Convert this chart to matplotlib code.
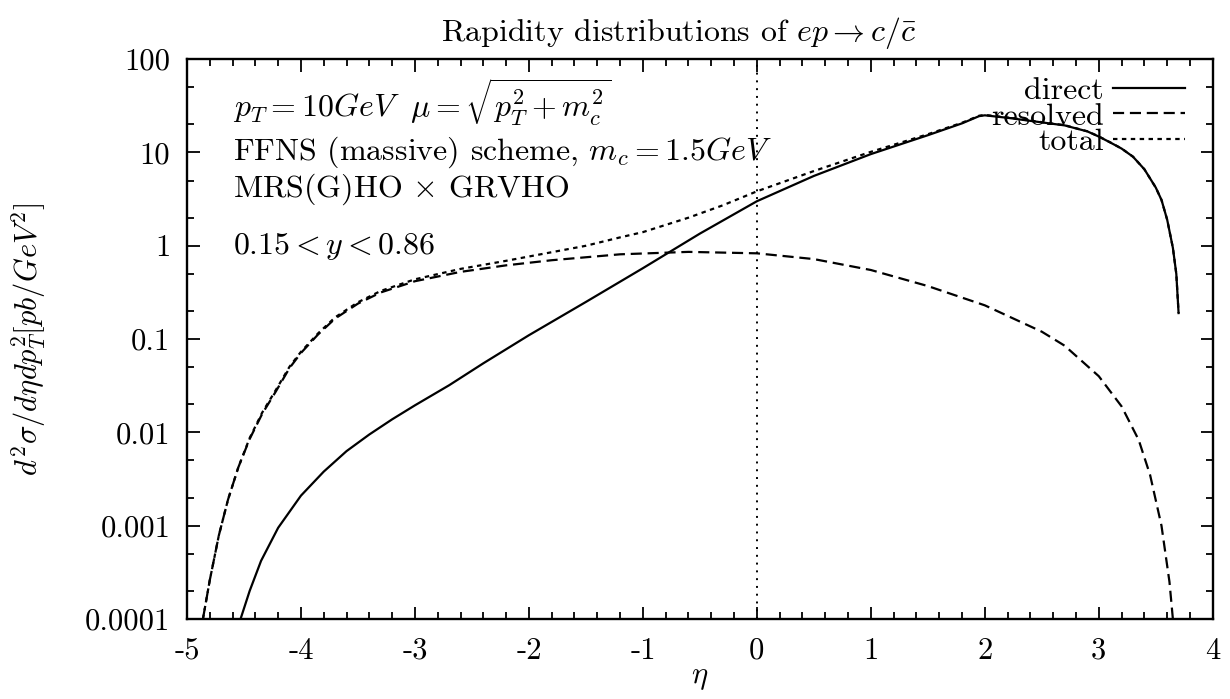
import numpy as np
import matplotlib
matplotlib.use('Agg')
import matplotlib.pyplot as plt
from matplotlib.ticker import FixedLocator, MultipleLocator, NullFormatter

plt.rcParams['font.family'] = ['cmr10', 'DejaVu Serif']
plt.rcParams['mathtext.fontset'] = 'cm'
plt.rcParams['axes.unicode_minus'] = False
plt.rcParams['font.size'] = 22

# values
eta_direct = [-4.53, -4.45, -4.35, -4.2, -4.0, -3.8, -3.6, -3.4, -3.2, -3.0, -2.7, -2.4,
              -2.0, -1.5, -1.0, -0.5, 0.0, 0.5, 1.0, 1.5, 1.8, 1.95, 2.0, 2.2,
              2.5, 2.7, 2.9, 3.0, 3.1, 3.2, 3.3, 3.4, 3.5, 3.55, 3.6, 3.65, 3.68, 3.7]
direct = [1e-4, 2.0e-4, 4.2e-4, 9.5e-4, 2.1e-3, 3.8e-3, 6.3e-3, 9.5e-3, 1.38e-2, 1.95e-2, 3.2e-2, 5.5e-2,
          0.11, 0.25, 0.575, 1.35, 3.0, 5.6, 9.6, 15.3, 20.5, 24.5, 25.0, 23.5,
          21.0, 19.5, 16.8, 14.8, 12.8, 11.0, 9.0, 6.6, 4.2, 3.1, 1.9, 0.95, 0.5, 0.19]

eta_resolved = [-4.86, -4.8, -4.72, -4.64, -4.55, -4.45, -4.34, -4.22, -4.1, -4.0,
                -3.85, -3.7, -3.5, -3.3, -3.0, -2.6, -2.2, -1.8, -1.2, -0.6, 0.0,
                0.5, 1.0, 1.5, 2.0, 2.5, 2.7, 3.0, 3.2, 3.35, 3.45, 3.55, 3.62, 3.65]
resolved = [1e-4, 2.6e-4, 7.9e-4, 1.9e-3, 4.2e-3, 8.5e-3, 1.58e-2, 2.75e-2, 4.9e-2, 7.1e-2,
            0.112, 0.166, 0.24, 0.316, 0.417, 0.525, 0.617, 0.70, 0.81, 0.86, 0.83,
            0.72, 0.55, 0.37, 0.23, 0.12, 0.085, 0.040, 0.019, 0.0083, 0.0035, 0.001, 2.5e-4, 1e-4]

eta_total = [-4.86, -4.8, -4.72, -4.64, -4.55, -4.45, -4.34, -4.22, -4.1, -4.0, -3.85,
             -3.7, -3.5, -3.3, -3.0, -2.6, -2.2, -1.8, -1.5, -1.2, -1.0, -0.6, -0.3,
             0.0, 0.5, 1.0, 1.5, 1.8, 1.95, 2.0, 2.2, 2.5, 2.7, 2.9, 3.0, 3.1, 3.2,
             3.3, 3.4, 3.5, 3.55, 3.6, 3.65, 3.68, 3.7]
total = [1e-4, 2.6e-4, 7.9e-4, 1.9e-3, 4.2e-3, 8.7e-3, 1.63e-2, 2.85e-2, 5.06e-2, 7.3e-2, 0.115,
         0.171, 0.248, 0.328, 0.437, 0.565, 0.69, 0.853, 1.0, 1.23, 1.40, 2.0, 2.71,
         3.83, 6.32, 10.15, 15.67, 20.8, 24.74, 25.23, 23.67, 21.12, 19.59, 16.85, 14.84, 12.83, 11.02,
         9.01, 6.6, 4.2, 3.1, 1.9, 0.95, 0.5, 0.19]

xticks = [-5, -4, -3, -2, -1, 0, 1, 2, 3, 4]
xticklabels = ['-5', '-4', '-3', '-2', '-1', '0', '1', '2', '3', '4']
yticks = [1e-4, 1e-3, 1e-2, 1e-1, 1, 10, 100]
yticklabels = ['0.0001', '0.001', '0.01', '0.1', '1', '10', '100']
yminor = [m * 10.0 ** k for k in range(-4, 2) for m in (2, 5)]

fig = plt.figure(figsize=(12.3, 6.99), dpi=100)
ax = fig.add_axes([0.152, 0.1144, 0.834, 0.801])

lw = 1.6
ax.plot(eta_direct, direct, color='k', lw=lw, label='direct')
ax.plot(eta_resolved, resolved, color='k', lw=lw, dashes=(5.0, 2.6), label='resolved')
ax.plot(eta_total, total, color='k', lw=lw, dashes=(2.0, 2.0), label='total')
ax.axvline(0, color='k', lw=1.4, ls=(0, (1, 3)))

ax.set_yscale('log')
ax.set_xlim(-5, 4)
ax.set_ylim(1e-4, 100)

ax.xaxis.set_major_locator(FixedLocator(xticks))
ax.set_xticklabels(xticklabels)
ax.xaxis.set_minor_locator(MultipleLocator(0.2))
ax.yaxis.set_major_locator(FixedLocator(yticks))
ax.set_yticklabels(yticklabels)
ax.yaxis.set_minor_locator(FixedLocator(yminor))
ax.yaxis.set_minor_formatter(NullFormatter())

ax.tick_params(which='both', direction='in', top=True, right=True, width=1.3)
ax.tick_params(which='major', length=9)
ax.tick_params(which='minor', length=5)
ax.tick_params(axis='x', which='major', pad=13)
ax.tick_params(axis='y', which='major', pad=12)
for s in ax.spines.values():
    s.set_linewidth(1.7)

ax.set_xlabel(r'$\eta$', labelpad=0)
ax.set_ylabel(r'$d^2\sigma/d\eta dp_T^2[pb/GeV^2]$')
ax.yaxis.set_label_coords(-0.135, 0.5)
fig.text(0.552, 1 - 33 / 699, r'Rapidity distributions of $ep \rightarrow c/\bar{c}$',
         ha='center', va='center', fontsize=23)

ax.text(-4.6, 34, r'$p_T = 10GeV\ \ \mu = \sqrt{p_T^2 + m_c^2}$', va='center', fontsize=23)
ax.text(-4.6, 10, r'FFNS (massive) scheme, $m_c = 1.5GeV$', va='center', fontsize=23)
ax.text(-4.6, 4.0, r'MRS(G)HO $\times$ GRVHO', va='center', fontsize=23)
ax.text(-4.6, 1.0, r'$0.15 < y < 0.86$', va='center', fontsize=23)

ax.legend(loc='upper right', bbox_to_anchor=(0.9727, 0.968), frameon=False, markerfirst=False,
          handlelength=2.25, handletextpad=0.28, labelspacing=-0.1, borderaxespad=0,
          borderpad=0, fontsize=23)

fig.savefig('out.png', dpi=100)
